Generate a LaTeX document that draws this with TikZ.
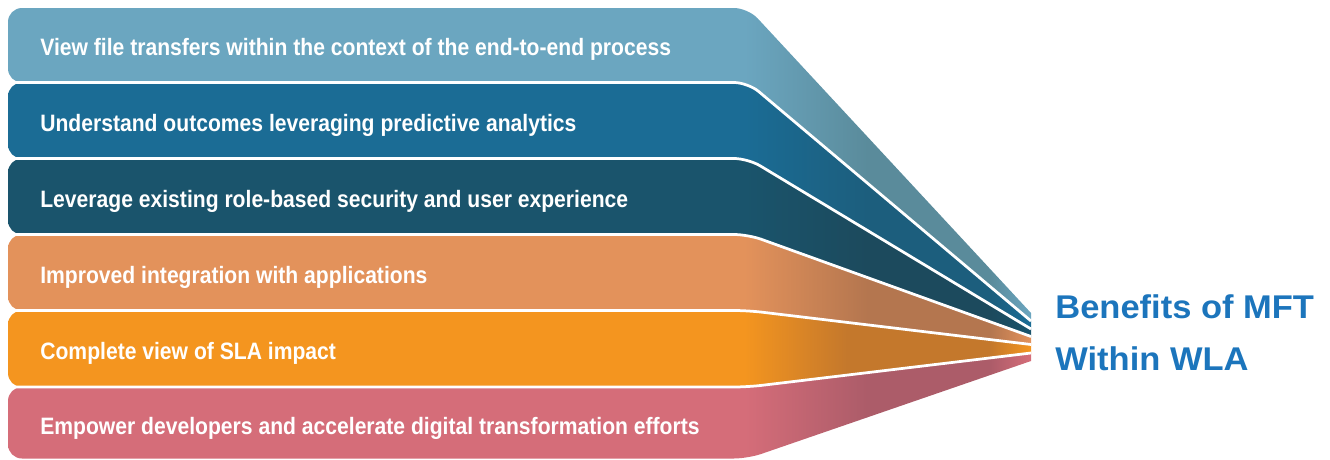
\documentclass[tikz,border=0pt]{standalone}
\usepackage{fontspec}
\setmainfont{Liberation Sans}
\newfontfamily\bandfont{Liberation Sans}[FakeStretch=0.89]
\newfontfamily\titlefont{Liberation Sans}[FakeStretch=1.05]
\definecolor{cA}{HTML}{6BA6C0}\definecolor{dA}{HTML}{5A8B9B}
\definecolor{cB}{HTML}{1B6C95}\definecolor{dB}{HTML}{1C5E7D}
\definecolor{cC}{HTML}{1A546C}\definecolor{dC}{HTML}{1C4A5D}
\definecolor{cD}{HTML}{E3925B}\definecolor{dD}{HTML}{B4764F}
\definecolor{cE}{HTML}{F4951F}\definecolor{dE}{HTML}{C4782C}
\definecolor{cF}{HTML}{D56D79}\definecolor{dF}{HTML}{AC5C69}
\definecolor{titleblue}{HTML}{1C75BC}
\pgfdeclarehorizontalshading{shA}{100bp}{color(0bp)=(cA); color(61bp)=(cA); color(67bp)=(dA); color(73bp)=(dA); color(75bp)=(cA); color(100bp)=(cA)}
\pgfdeclarehorizontalshading{shB}{100bp}{color(0bp)=(cB); color(61bp)=(cB); color(67bp)=(dB); color(73bp)=(dB); color(75bp)=(cB); color(100bp)=(cB)}
\pgfdeclarehorizontalshading{shC}{100bp}{color(0bp)=(cC); color(61bp)=(cC); color(67bp)=(dC); color(73bp)=(dC); color(75bp)=(cC); color(100bp)=(cC)}
\pgfdeclarehorizontalshading{shD}{100bp}{color(0bp)=(cD); color(61bp)=(cD); color(67bp)=(dD); color(73bp)=(dD); color(75bp)=(cD); color(100bp)=(cD)}
\pgfdeclarehorizontalshading{shE}{100bp}{color(0bp)=(cE); color(61bp)=(cE); color(66bp)=(dE); color(73bp)=(dE); color(75bp)=(cE); color(100bp)=(cE)}
\pgfdeclarehorizontalshading{shF}{100bp}{color(0bp)=(cF); color(61bp)=(cF); color(67bp)=(dF); color(73bp)=(dF); color(75bp)=(cF); color(100bp)=(cF)}
\newcommand\mybandshape[5]{%
  \shade[shading=#1, rounded corners=0.28cm] (1031,#3) -- (748,#2) -- (8,#2) -- (8,#4) -- (748,#4) -- (1031,#5);}
\newcommand\mysepline[2]{%
  \draw[sepline] (8,#1) -- (748,#1) -- (1031,#2);}
\begin{document}
\begin{tikzpicture}[x=0.02cm,y=-0.02cm,
  bandtxt/.style={anchor=base west, inner sep=0, text=white, font=\bandfont\bfseries\fontsize{13.5}{16}\selectfont},
  titletxt/.style={anchor=base west, inner sep=0, text=titleblue, font=\titlefont\bfseries\fontsize{18.7}{22}\selectfont},
  sepline/.style={draw=white, line width=0.055cm, rounded corners=0.28cm}]
\useasboundingbox (0,0) rectangle (1330,460);
% bands
\mybandshape{shA}{8}{313}{82.5}{321}
\mybandshape{shB}{82.5}{321}{158.5}{329}
\mybandshape{shC}{158.5}{329}{234.5}{336.5}
\mybandshape{shD}{234.5}{336.5}{310.5}{344.5}
\mybandshape{shE}{310.5}{344.5}{387}{353}
\mybandshape{shF}{387}{353}{458.5}{361}
% separators
\mysepline{82.5}{321}
\mysepline{158.5}{329}
\mysepline{234.5}{336.5}
\mysepline{310.5}{344.5}
\mysepline{387}{353}
% texts
\node[bandtxt] (t1) at (40,55.5) {View file transfers within the context of the end-to-end process};
\node[bandtxt] (t2) at (40,131) {Understand outcomes leveraging predictive analytics};
\node[bandtxt] (t3) at (40,207) {Leverage existing role-based security and user experience};
\node[bandtxt] (t4) at (40,283) {Improved integration with applications};
\node[bandtxt] (t5) at (40,359) {Complete view of SLA impact};
\node[bandtxt] (t6) at (40,434) {Empower developers and accelerate digital transformation efforts};
% title
\node[titletxt] (title1) at (1055,318.5) {Benefits of MFT};
\node[titletxt] (title2) at (1055,370.5) {Within WLA};
\end{tikzpicture}
\end{document}
